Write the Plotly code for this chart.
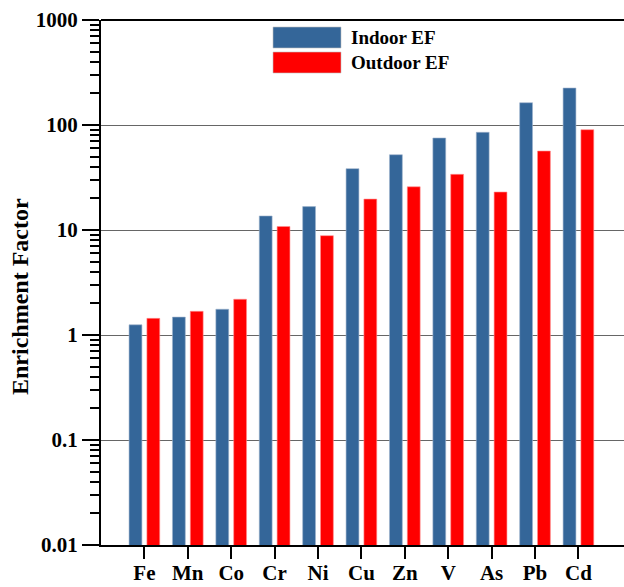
import plotly.graph_objects as go

elements = ["Fe", "Mn", "Co", "Cr", "Ni", "Cu", "Zn", "V", "As", "Pb", "Cd"]
indoor_ef = [1.25, 1.48, 1.76, 13.6, 16.7, 38.4, 52.1, 75.2, 85.2, 163, 225]
outdoor_ef = [1.44, 1.68, 2.19, 10.8, 8.83, 19.7, 25.8, 33.9, 23.0, 56.5, 90.2]
series_names = ["Indoor EF", "Outdoor EF"]
y_tickvals = [0.01, 0.1, 1, 10, 100, 1000]
y_ticktext = ["0.01", "0.1", "1", "10", "100", "1000"]

BLUE = "#346699"
RED = "#FF0000"
FONT = "Liberation Serif"

fig = go.Figure()
fig.add_trace(go.Bar(x=list(range(len(elements))), y=indoor_ef, name=series_names[0],
                     marker=dict(color=BLUE, line=dict(width=0.6, color="#9fb4cc"))))
fig.add_trace(go.Bar(x=list(range(len(elements))), y=outdoor_ef, name=series_names[1],
                     marker=dict(color=RED, line=dict(width=0.6, color="#ff9090"))))

fig.update_layout(
    width=624, height=584,
    margin=dict(l=101, r=0, t=20, b=39),
    paper_bgcolor="white", plot_bgcolor="white",
    barmode="group", bargap=0.178, bargroupgap=0.28,
    showlegend=False,
    font=dict(family=FONT, size=21, color="black"),
)

fig.update_xaxes(
    range=[-1, 11.05], automargin=False,
    tickmode="array", tickvals=list(range(len(elements))),
    ticktext=["<b>%s</b>" % e for e in elements],
    ticks="outside", ticklen=12, tickwidth=2, tickcolor="black",
    showline=True, linewidth=2, linecolor="black", mirror=False,
    showgrid=False, zeroline=False,
    tickfont=dict(family=FONT, size=21, color="black"),
)
try:
    fig.update_xaxes(ticklabelstandoff=-4)
except Exception:
    fig.update_xaxes(tickfont=dict(size=20))

fig.update_yaxes(
    type="log", range=[-2, 3], automargin=False,
    tickmode="array", tickvals=y_tickvals,
    ticktext=["<b>%s</b>" % t for t in y_ticktext],
    ticks="outside", ticklen=17, tickwidth=2, tickcolor="black",
    minor=dict(ticks="outside", ticklen=9, tickwidth=2, tickcolor="black", dtick="D1", showgrid=False),
    showline=True, linewidth=2, linecolor="black",
    showgrid=True, gridcolor="#666666", gridwidth=1,
    zeroline=False,
    tickfont=dict(family=FONT, size=21, color="black"),
)

# top frame line
fig.add_shape(type="line", xref="paper", yref="paper", x0=0, x1=1, y0=1, y1=1,
              line=dict(color="black", width=2))

# y-axis title
fig.add_annotation(text="<b>Enrichment Factor</b>", xref="paper", yref="paper",
                   x=(20 - 101) / 523, y=(545 - 297) / 525, xanchor="center", yanchor="middle",
                   textangle=-90, showarrow=False,
                   font=dict(family=FONT, size=24, color="black"))

# custom legend
legend_items = [(series_names[0], BLUE, 0.0), (series_names[1], RED, 1.0)]
x0p = (273 - 101) / 523
x1p = (341 - 101) / 523
for name, col, i in legend_items:
    top = 27 + i * 25
    bot = top + 21
    y_top = (545 - top) / 525
    y_bot = (545 - bot) / 525
    fig.add_shape(type="rect", xref="paper", yref="paper", x0=x0p, x1=x1p,
                  y0=y_bot, y1=y_top, fillcolor=col, line=dict(width=0.6, color="#c0c0c0"))
    fig.add_annotation(text="<b>%s</b>" % name, xref="paper", yref="paper",
                       x=(349 - 101) / 523, y=(y_top + y_bot) / 2,
                       xanchor="left", yanchor="middle", showarrow=False,
                       font=dict(family=FONT, size=19, color="black"))

fig.write_html("out.html")
